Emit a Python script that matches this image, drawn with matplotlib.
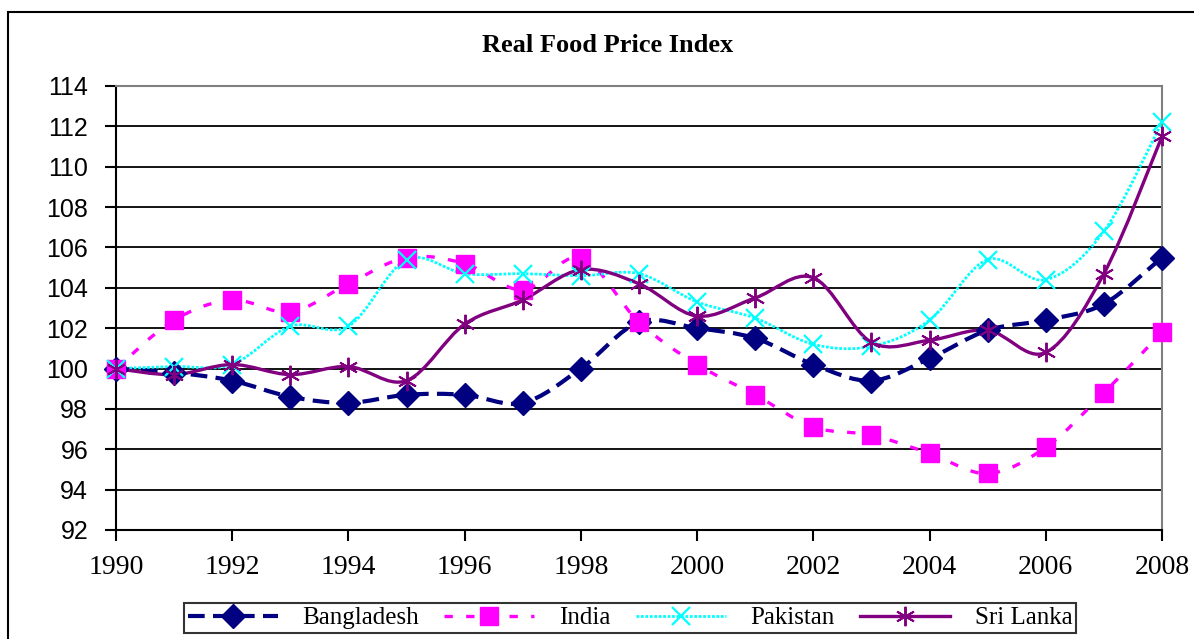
import matplotlib
matplotlib.use("Agg")
import matplotlib.pyplot as plt
from matplotlib.path import Path
from matplotlib.patches import PathPatch, Rectangle
from matplotlib.lines import Line2D
import numpy as np

years = list(range(1990, 2009))
bangladesh = [100.0, 99.8, 99.4, 98.6, 98.3, 98.7, 98.7, 98.3, 100.0, 102.3,
              102.0, 101.5, 100.2, 99.4, 100.5, 101.9, 102.4, 103.2, 105.5]
india = [100.0, 102.4, 103.4, 102.8, 104.2, 105.5, 105.2, 103.9, 105.5, 102.3,
         100.2, 98.7, 97.1, 96.7, 95.8, 94.8, 96.1, 98.8, 101.8]
pakistan = [100.0, 100.1, 100.2, 102.1, 102.1, 105.4, 104.7, 104.7, 104.6, 104.7,
            103.3, 102.5, 101.2, 101.1, 102.4, 105.4, 104.4, 106.8, 112.2]
srilanka = [100.0, 99.7, 100.2, 99.7, 100.1, 99.4, 102.2, 103.4, 104.9, 104.2,
            102.6, 103.5, 104.5, 101.3, 101.4, 101.9, 100.8, 104.7, 111.5]
series_names = ["Bangladesh", "India", "Pakistan", "Sri Lanka"]
yticks = list(range(92, 115, 2))
xticks = list(range(1990, 2009, 2))
title = "Real Food Price Index"

fig = plt.figure(figsize=(11.94, 6.39), dpi=100)
ax = fig.add_axes([116/1194, 1-530/639, (1162-116)/1194, (530-86)/639])


def smooth_path(xs, ys):
    xs = np.asarray(xs, float)
    ys = np.asarray(ys, float)
    pts = np.column_stack([xs, ys])
    n = len(pts)
    verts = [pts[0]]
    codes = [Path.MOVETO]
    for i in range(n - 1):
        p0 = pts[i - 1] if i > 0 else pts[i]
        p1 = pts[i]
        p2 = pts[i + 1]
        p3 = pts[i + 2] if i + 2 < n else pts[i + 1]
        c1 = p1 + (p2 - p0) / 6.0
        c2 = p2 - (p3 - p1) / 6.0
        verts += [c1, c2, p2]
        codes += [Path.CURVE4] * 3
    return Path(verts, codes)


styles = [
    dict(data=bangladesh, color="#000080", ls=(0, (4, 2)), lw=3.0, marker="D", ms=12, mfc="#000080", mew=1),
    dict(data=india, color="#FF00FF", ls=(0, (2.5, 4)), lw=2.4, marker="s", ms=13, mfc="#FF00FF", mew=1),
    dict(data=pakistan, color="#00FFFF", ls=(0, (1, 0.6)), lw=2.0, marker="x", ms=13, mfc="#00FFFF", mew=1.6),
    dict(data=srilanka, color="#800080", ls="-", lw=2.4, marker=(6, 2, 0), ms=14, mfc="#800080", mew=1.4),
]

handles = []
for name, st in zip(series_names, styles):
    patch = PathPatch(smooth_path(years, st["data"]), fill=False, edgecolor=st["color"],
                      linewidth=st["lw"], linestyle=st["ls"], transform=ax.transData,
                      capstyle="butt", zorder=3)
    ax.add_patch(patch)
    ax.plot(years, st["data"], linestyle="none", marker=st["marker"], markersize=st["ms"],
            color=st["color"], markerfacecolor=st["mfc"], markeredgecolor=st["color"],
            markeredgewidth=st["mew"], clip_on=False, zorder=4)
    handles.append(Line2D([], [], color=st["color"], linestyle=st["ls"], linewidth=st["lw"],
                          marker=st["marker"], markersize=st["ms"], markerfacecolor=st["mfc"],
                          markeredgecolor=st["color"], markeredgewidth=st["mew"]))

ax.set_xlim(1990, 2008)
ax.set_ylim(92, 114)
ax.set_yticks(yticks)
ax.set_xticks(xticks)
ax.set_yticklabels([str(v) for v in yticks], fontfamily="Liberation Sans", fontsize=18)
ax.set_xticklabels([str(v) for v in xticks], fontfamily="Liberation Serif", fontsize=20)
ax.tick_params(axis="both", direction="out", length=8, width=1.5, color="black")
ax.tick_params(axis="x", pad=10)
ax.tick_params(axis="y", pad=12)
ax.grid(axis="y", color="black", linewidth=1.3)
ax.set_axisbelow(True)
for side in ["left", "bottom"]:
    ax.spines[side].set_color("black")
    ax.spines[side].set_linewidth(1.5)
for side in ["top", "right"]:
    ax.spines[side].set_color("#808080")
    ax.spines[side].set_linewidth(1.5)

fig.text(608/1194, 1-46/639, title, ha="center", va="center", fontsize=19,
         fontweight="bold", fontfamily="Liberation Serif")

# outer chart frame
fig.patches.append(Rectangle((8/1194, -0.05), 1.1, 1-12/639+0.05, transform=fig.transFigure,
                             fill=False, edgecolor="black", linewidth=1.5, zorder=0))

leg = fig.legend(handles, series_names, loc="center", bbox_to_anchor=(630/1194, 1-618/639),
                 ncol=4, frameon=True, fancybox=False, edgecolor="black",
                 prop={"family": "Liberation Serif", "size": 18}, handlelength=3.6,
                 columnspacing=1.0, handletextpad=1.0, borderpad=0.15, borderaxespad=0)
leg.get_frame().set_linewidth(1.5)

fig.savefig("out.png", dpi=100)
